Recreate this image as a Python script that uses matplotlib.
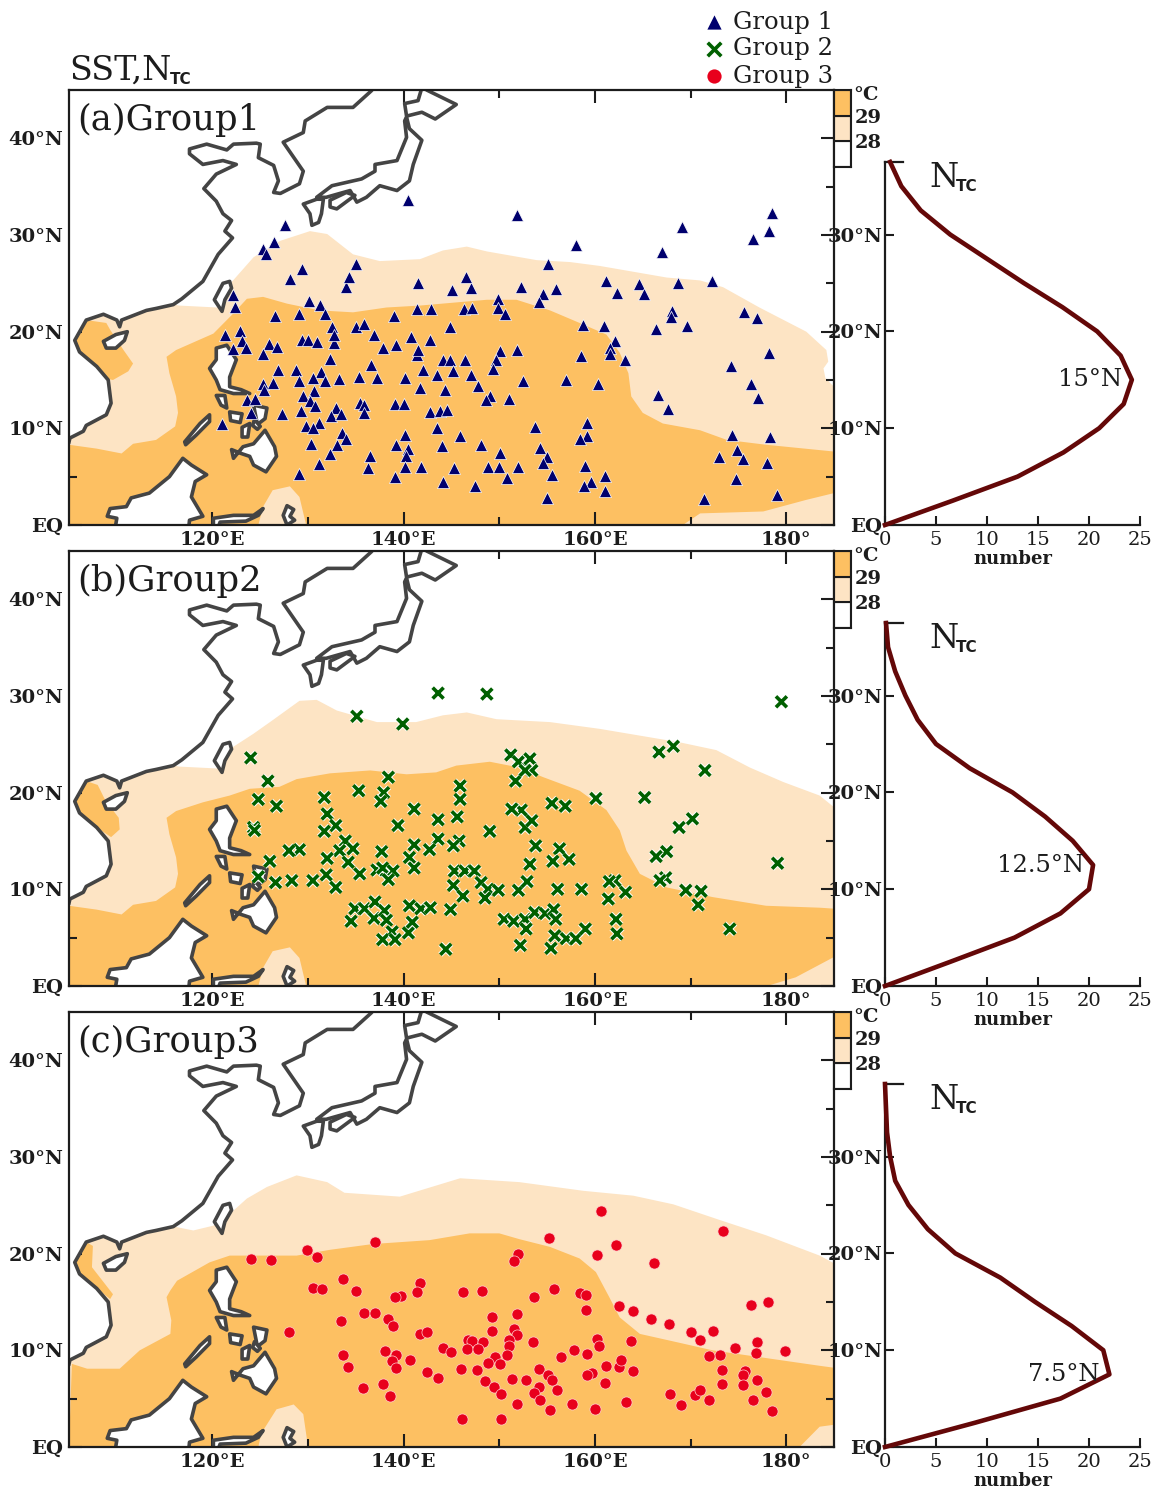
import numpy as np
import matplotlib
matplotlib.use('Agg')
import matplotlib.pyplot as plt
import matplotlib.patheffects as pe

W, H = 1162, 1491
plt.rcParams['font.family'] = ['DejaVu Serif']

panel_names = ['(a)Group1', '(b)Group2', '(c)Group3']
peak_labels = ['15°N', '12.5°N', '7.5°N']
peak_label_x = [1122, 1084, 1100]
peak_label_lat = [15, 12.5, 7.5]
legend_names = ['Group 1', 'Group 2', 'Group 3']

lon_major = [120, 140, 160, 180]
lon_major_labels = ['120°E', '140°E', '160°E', '180°']
lon_minor = [110, 130, 150, 170]
lat_major = [0, 10, 20, 30, 40]
lat_major_labels = ['EQ', '10°N', '20°N', '30°N', '40°N']
lat_minor = [5, 15, 25, 35]
curve_lat_ticks = [0, 10, 20, 30]
curve_lat_labels = ['EQ', '10°N', '20°N', '30°N']
count_ticks = [0, 5, 10, 15, 20, 25]

color_levels = [27, 28, 29, 30]
color_labels = ['28', '29']

# TC counts per 2.5 deg latitude band
band_lat = [0, 2.5, 5, 7.5, 10, 12.5, 15, 17.5, 20, 22.5, 25, 27.5, 30, 32.5, 35, 37.5]
ntc_1 = [0, 6.6, 13, 17.5, 21, 23.4, 24.2, 23.1, 20.8, 17.4, 13.6, 10, 6.4, 3.5, 1.6, 0.5]
ntc_2 = [0, 6.4, 12.7, 17.2, 20, 20.4, 18.4, 15.7, 12.5, 8.3, 5, 3.2, 2, 1, 0.3, 0.1]
ntc_3 = [0, 8.8, 17.2, 22, 21.4, 18.3, 14.7, 11.3, 6.9, 4.2, 2.3, 1, 0.5, 0.2, 0.1, 0]

# genesis points (lon, lat)
group1 = [(122.2,23.8),(122.4,22.6),(126.5,21.6),(129,21.8),(130.1,23.2),(131.3,22.8),(131.8,21.8),
    (134,24.6),(128.1,25.5),(139,21.6),(121.3,19.7),(122.9,20.1),(123.1,19),(122.2,18.2),(123.5,18.3),
    (125.9,18.7),(125.3,17.7),(126.8,18.4),(129.4,19.1),(130,19.1),(130.9,18.9),(132.7,18.8),(132.5,20.5),
    (132.7,19.7),(135,20.5),(135.8,20.8),(136.9,19.7),(137.8,18.3),(139.2,18.6),(132.3,17.2),(136.6,16.6),
    (126.9,16),(128.7,16),(131.4,15.8),(129,14.9),(130.5,15.2),(131.8,14.9),(133.2,15.1),(135.3,15.3),
    (137.2,15.2),(125.3,14.6),(126.3,14.7),(125.4,14),(130.6,13.9),(129.5,13.3),(123.6,12.9),(124.5,13),
    (130.2,12.8),(130.7,12.3),(135.4,12.6),(135.8,12.4),(135.9,11.6),(139.1,12.5),(124,11.6),(127.3,11.5),
    (129.3,11.8),(132.9,12.1),(132.4,11.3),(133.4,11.5),(121,10.5),(131.1,10.6),(129.8,10.2),(130.5,10),
    (133.6,9.5),(134,8.9),(130.3,8.4),(133,8.3),(139.2,8.3),(132.3,7.3),(136.5,7.1),(131.1,6.3),(136.3,5.9),
    (129,5.3),(139.1,5),
    (141.4,22.3),(142.9,22.3),(146.3,22.3),(147.1,22.4),(149.9,23.4),(149.9,22.5),(150.6,21.8),(152.3,24.6),
    (154.6,23.9),(154.1,23.1),(155.9,24.4),(141.5,25),(145.1,24.3),(147,24.5),(161.2,25.2),(164.6,24.9),
    (162.3,24),(165.1,23.9),(168.7,25),(172.2,25.2),(175.6,22),(176.9,21.4),(168.1,22.1),(168,21.5),
    (166.4,20.3),(169.6,20.6),(158.7,20.7),(160.9,20.6),(144.8,20.5),(140.8,19.5),(142.8,19.1),(162.1,19),
    (161.6,18.3),(161.6,17.7),(163.1,17.1),(158.5,17.5),(178.2,17.8),(174.2,16.5),(141.4,17.6),(141.5,18.1),
    (150.1,18),(151.8,18.1),(144.1,17.1),(144.8,17.1),(146.4,17.1),(149.7,17.1),(149.3,16.1),(142,16),
    (145.2,15.9),(143.5,15.5),(147,15.5),(140.1,15.2),(147.8,14.4),(152.5,14.9),(157,15),(160.3,14.6),
    (176.3,14.6),(141.7,14.2),(144.3,14),(166.6,13.5),(177.1,13.1),(149,13.3),(148.6,12.9),(151,13),
    (140,12.5),(142.7,11.7),(143.8,11.8),(144.5,11.9),(167.6,12),(159.2,10.6),(153.7,10.1),(143.5,10),
    (140.1,9.3),(145.9,9.2),(159.2,9.2),(158.4,8.9),(174.3,9.3),(178.3,9.1),(148.1,8.3),(144,8.2),(140.5,7.9),
    (154.3,8),(150.1,7.5),(140.2,7.1),(155,7),(154.6,6.4),(174.9,7.8),(173,7),(175.5,6.8),(178,6.4),(140.1,6),
    (141.8,6),(145.3,5.9),(148.8,6),(150,6),(152,6),(159,6.1),(150.8,4.9),(155.5,5.2),(161,5.1),(144.1,4.5),
    (147.5,4),(159.6,4.4),(158.9,4),(161,3.5),(174.8,4.8),(155,2.8),(171.4,2.7),(179,3.1),
    (140.4,33.6),(151.9,32.1),(158,29),(127.6,31),(126.4,29.3),(125.3,28.6),(125.6,28),(135,27),(129.4,26.5),
    (134.3,25.7),(146.5,25.7),(155.1,27),(178.5,32.3),(178.2,30.4),(176.5,29.6),(169.1,30.8),(167,28.2)]

group2 = [(143.6,30.3),(148.7,30.2),(135.1,27.9),(139.9,27.1),(124,23.6),(125.8,21.2),(138.4,21.6),(135.3,20.2),
    (137.9,20),(137.6,19.1),(145.9,20.7),(145.9,19.3),(124.8,19.3),(126.7,18.6),(131.7,19.5),(132,17.8),
    (132.9,16.6),(131.7,16),(124.3,16.4),(124.4,16.1),(141.1,18.3),(143.6,17.2),(145.6,17.5),(139.4,16.6),
    (149,16),(143.6,15.2),(145.8,15),(145.2,14.5),(141.1,14.6),(142.7,14.1),(140.6,13.3),(141.1,12.2),
    (137.7,13.9),(133.9,15),(134.7,14.2),(133.3,14),(134.2,12.8),(132,13.2),(129.1,14.1),(128,14),(126,12.9),
    (124.8,11.3),(126.6,10.7),(128.3,10.9),(130.5,10.9),(131.9,11.5),(132.9,10.2),(135.4,11.6),(137.2,12),
    (137.8,12.2),(138.9,11.9),(138.4,11),(145.3,11.9),(146.4,11.9),(147.4,11.9),(145.2,10.4),(148.1,10.7),
    (148.8,10),(149.9,9.9),(148.5,9.1),(146.2,9.3),(152,9.9),(152.9,10.8),(153.2,12.6),(153.8,14.5),(152.7,16.4),
    (153.4,17.1),(152.3,18.2),(151.3,18.3),(151.7,21.2),(151.2,23.9),(152,23.2),(153.2,23.5),(153.4,22.3),
    (152.7,22.3),(134.9,8),(135.9,8),(137,8.7),(136.9,7),(138,7.8),(138.2,6.8),(134.5,6.7),(138.8,5.6),
    (137.8,4.8),(139.1,4.8),(140.5,5.5),(140.9,6.6),(140.6,8.3),(141.8,8),(142.8,8.1),(144.9,7.9),(144.4,3.8),
    (150.5,6.9),(151.5,6.7),(152.7,6.9),(152.8,5.9),(153.7,7.6),(154.8,7.5),(152.2,4.2),
    (179.5,29.4),(168.2,24.8),(166.7,24.2),(171.5,22.3),(160.1,19.4),(165.2,19.5),(170.2,17.3),(168.8,16.4),
    (167.5,13.9),(166.4,13.4),(179.1,12.7),(167.4,11.2),(166.8,10.9),(169.5,9.9),(171.1,9.8),(170.8,8.4),
    (174.1,5.9),(162.1,10.9),(161.5,10.8),(163.2,9.7),(161.4,9),(162.2,6.9),(162.3,5.4),(158.6,10),(156.1,10),
    (155.5,18.9),(156.9,18.6),(156.3,14.2),(157.3,13.1),(155.6,12.9),(155.7,7.9),(155.9,6.9),(155.4,3.9),
    (155.8,5.2),(157,4.9),(158,4.9),(159,5.9)]

group3 = [(124,19.4),(126.1,19.3),(129.9,20.4),(130.9,19.7),(137,21.2),(152,20),(151.5,19.2),(133.7,17.4),
    (130.5,16.5),(131.5,16.3),(135,16.1),(141.7,17),(141.4,16),(139.7,15.6),(139.1,15.5),(146.2,16),(148.2,16.1),
    (135.9,13.9),(137,13.9),(133.4,13),(138.4,13.2),(138.9,12.5),(128,11.9),(141.7,11.7),(142.4,11.9),(149.2,13.5),
    (151.8,13.8),(149.2,12),(151.5,12.2),(151.9,11.6),(151,11.1),(151,10.4),(150.8,9.5),(146.7,11.1),(147.1,11),
    (148.3,10.9),(146.6,10.1),(147.8,10.1),(144.1,10.2),(144.9,9.8),(138,9.9),(133.7,9.5),(134.2,8.3),(139.2,9.5),
    (138.8,8.9),(139.2,8.2),(140.7,9),(142.4,7.8),(143.6,7.1),(146,8.1),(147.7,8),(149.5,9.3),(148.8,8.7),(150.1,8.6),
    (148.5,6.8),(149.4,6.2),(150.2,5.5),(151.3,7),(152.8,6.9),(151.9,4.5),(135.7,6.1),(137.8,6.5),(138.6,5.3),
    (146.1,2.9),(150.2,2.9),
    (160.6,24.4),(173.4,22.3),(155.2,21.6),(162.2,20.9),(160.2,19.9),(166.2,19),(155.7,16.3),(153.6,15.5),(158.4,15.9),
    (159.1,15.7),(159.1,14.2),(162.5,14.6),(164,14.1),(165.9,13.2),(167.7,12.7),(170,11.9),(171,11.1),(172.3,12),
    (176.3,14.7),(178.1,15),(176.9,10.9),(174.6,10.2),(173.1,9.5),(171.9,9.4),(176.8,9.7),(179.9,9.9),(153.5,10.9),
    (160.2,11.2),(160.4,10.4),(163.8,11),(157.8,10),(159.2,9.6),(156.4,9.3),(154.2,8.1),(155.1,7.5),(155.5,6.9),
    (154.1,6.2),(153.6,5.6),(156,5.9),(154.3,4.9),(155.3,3.8),(157.6,4.4),(160,3.9),(163.2,4.7),(161.2,8.4),(162.5,8.3),
    (162.7,9),(164,7.9),(159.7,7.7),(159.2,7.4),(161,6.6),(173.3,8),(173.3,6.5),(175.7,7.9),(175.5,7.4),(175.5,6.4),
    (176.9,6.9),(177.9,5.7),(176.5,4.9),(178.5,3.7),(167.9,5.5),(169,4.3),(170.5,5.4),(171,5.9),(171.9,4.9)]

# SST 28C and 29C areas for each panel, outlines
sst28_a = [(105,0),(105,23),(115,23),(116.5,22.7),(120.5,22.5),(121.5,23.5),(121.8,24.9),(124.3,27.7),(127.1,29.4),
    (130.2,30.4),(132,30.1),(134.7,28),(137.5,27.3),(141.7,27.5),(144.1,28.4),(146.6,28.8),(148.7,28.3),(153.9,27.4),
    (157.4,27.2),(160.5,26.8),(164,26.2),(167.5,25.6),(171,25.3),(173.4,24.6),(177.2,22.5),(182.1,20),(184.2,18.1),
    (184.4,16.9),(183.9,16.2),(184.1,15.2),(185,14.3),(185,0)]
sst29_a = [(105,0),(105,8.3),(107.9,7.9),(110.5,7.4),(111.7,8.4),(114.1,8.8),(116.1,10.2),(116.4,11.6),(116.2,13.3),
    (115.5,15.7),(115.2,17.4),(116.2,18.1),(120.1,19.8),(122.2,21.9),(123.6,23.4),(125.3,23.6),(127.8,22.9),(131.2,22.2),
    (134.7,22),(138.2,22.5),(141.7,22.7),(145.2,23),(148.7,23.3),(151.8,23.3),(155.3,22.2),(158.4,20.9),(161.2,19.7),
    (162.6,17.8),(163.5,15.7),(163.8,13.3),(165,11.6),(167.1,10.5),(171,9.8),(173.8,8.8),(177.9,8.3),(185,7.6),(185,3.3),
    (182.1,2.6),(177.6,1.4),(171,1.2),(169.2,0),(129.8,0),(129.1,2.9),(128.1,4),(126.3,3.6),(125.3,1.9),(124.8,0)]
blob29_a = [(106.8,21.2),(108.9,20.9),(109.3,20.2),(110.7,18.1),(111.7,16.7),(111.2,15.9),(109.6,15),(108.2,15.3),
    (106.1,17.9),(105.6,19.1)]

sst28_b = [(105,0),(105,23),(115,23),(116.5,22.7),(120.5,22.5),(121.5,23.5),(121.8,24.5),(124.3,26.1),(126.3,27.5),
    (129.1,29.5),(130.9,29.6),(133,28.5),(137.2,27.3),(141.3,27.3),(144.1,28),(146.6,28.3),(149.7,27.6),(155.3,27.3),
    (160.5,26.6),(164.7,25.9),(168.9,25.2),(172.7,24.4),(176.2,22.6),(179.7,21.1),(183.5,19.7),(185,18.5),(185,0)]
sst29_b = [(105,0),(105,8.3),(107.9,7.9),(110.5,7.4),(111.7,8.4),(114.1,8.8),(116.1,10.2),(116.4,11.6),(116.2,13.3),
    (115.5,15.7),(115.2,17.4),(116.2,18.1),(119,19),(121.8,19.7),(123.9,20.4),(127,20.6),(128.8,21.4),(132.3,22),
    (136.5,22.3),(140.3,21.9),(143.4,22.1),(145.5,22.8),(149,23.2),(152.1,22.6),(154.6,21.6),(158.4,20.2),(161.2,18.2),
    (162.6,16.1),(163.3,14),(164.7,11.6),(167.5,10.2),(172.3,9.2),(177.9,8.3),(183.5,8.1),(185,8),(185,3),(181,0.9),
    (178,0),(129.8,0),(129.1,2.9),(128.1,4),(126.3,3.6),(125.3,1.9),(124.8,0)]
blob29_b = [(106.8,21.2),(108,20.8),(108.8,19.2),(110.2,17.4),(110.3,16.2),(109.4,15.4),(107.9,16.4),(106.1,17.9),(105.6,19.1)]

sst28_c = [(105,0),(105,23),(115,23),(118,22.4),(120.1,22.9),(121.8,24.1),(123.6,25.7),(125.7,26.9),(128.8,28.1),
    (132,27.4),(133.8,26.3),(139.6,25.9),(145.9,27.8),(152.1,27.4),(158.8,26.5),(164,26),(168.2,25.1),(173,23.5),
    (177.9,21.9),(183.5,19.8),(185,19),(185,0)]
sst29_c = [(105,0),(105.3,8.6),(106.9,8.1),(110.3,8.1),(112.4,10),(115.6,11.7),(115.7,13.1),(115.2,15.5),(115.6,16.2),
    (116.3,17.2),(119.7,19.1),(121.8,19.8),(128.8,19.8),(132.3,20.4),(136.8,21),(142.7,21.4),(146.9,22.1),(150,22.1),
    (152.1,21.5),(155.3,20.7),(158.4,19.5),(160.1,18.1),(161.5,15.5),(162.6,13.4),(164.7,11.7),(169.2,10.7),(172.3,10),
    (177.2,9.3),(183.5,8.4),(185,8.2),(185,2.3),(183.5,2.1),(181.4,0),(130,0),(129.5,3.4),(128.5,4.4),(126.7,3.9),
    (125.1,1.4),(124.8,0)]
blob29_c = [(106.8,21.2),(107.5,20.8),(107.4,18.6),(109.6,15.8),(109.3,15.3),(106.1,17.9),(105.6,19.1)]

# coastlines
mainland = [(105,8.6),(105.1,9),(106.5,9.7),(106.8,10.3),(108.9,11.4),(109.4,12.6),(109.1,15),(107.9,16.4),(106.1,17.9),
    (105.6,19.1),(106.8,21.2),(108.6,21.8),(110,21.2),(110.3,20.5),(110.5,21.2),(113.1,22.2),(114.1,22.4),(115.9,22.8),
    (116.8,23.4),(119,25.2),(120.6,28),(122.1,29.7),(121.3,30.4),(122,31.5),(121.1,32.2),(120.4,33.5),(119.1,34.8),
    (120.4,36.3),(122.5,37.3),(121.1,37.7),(119,37.3),(117.6,38.4),(117.6,38.9),(119.4,39.4),(121.5,38.8),(122.2,39.4),
    (124.6,39.5),(125,39.4),(124.8,38),(126.4,37.2),(126.9,35.6),(126.4,34.4),(127.1,34.3),(129.1,35.3),(129.5,36.6),
    (127.4,39.6),(129.5,40.6),(129.7,41.8),(132,43.2),(134.7,43.2),(136.6,44.9),(138,46.5)]
islands = [
    [(142.4,45),(145.5,43.5),(143.3,42),(141.9,42.7),(140.3,42.3),(140.1,43.6),(141.5,43.9),(141.8,44.9),(142,46)],
    [(140.3,42.2),(140.6,41),(141.9,39.8),(141,37.3),(140.6,35.6),(139.3,34.6),(137.5,35.1),(136.1,33.9),(135.1,33.4),
     (134.4,34.6),(131.9,33.9),(130.9,33.9),(132.5,35.1),(135.6,35.8),(137,36.6),(137,37.3),(139.3,37.7),(140.3,40.1),(140.1,41.8)],
    [(130.9,33.7),(129.5,33.2),(130.2,32.2),(130.4,31),(131.1,31.3),(131.4,32.2),(131.6,33.7)],
    [(132.3,33.6),(134,34.4),(134.9,34.1),(133,32.7),(132.3,32.9)],
    [(121.8,25.2),(121.1,25),(120.2,23.3),(121,22.1),(121.3,23.3),(122,24.5)],
    [(108.6,19),(109.9,19.7),(111.1,20),(110.8,19.1),(109.9,18.3),(108.9,18.3)],
    [(120.4,18.3),(121.5,18.6),(122.5,17.1),(121.8,15.3),(121.8,14.3),(123,14),(123.9,13.6),(122.2,13.6),(121.5,13.8),
     (120.8,14),(120.4,15),(119.7,16.2),(120.4,17.1)],
    [(120.4,13.4),(121.3,13.4),(121.5,12.1),(120.9,12.4)],
    [(121.8,11.7),(123.1,11.5),(122.9,10.6),(121.9,10.8)],
    [(123.1,10.1),(123.9,10.5),(123.7,9.1),(123.1,9.1)],
    [(124.3,12.4),(125.7,12.1),(125.5,11),(124.7,10.4)],
    [(124.4,10.9),(125,10.2),(124.7,9.9),(124.2,10.3)],
    [(119.7,11.4),(119.7,10.7),(118.3,9.3),(117.2,8.3),(117.1,8.6),(118.7,10.5)],
    [(122,7.8),(122.2,6.9),(123.2,8.1),(124.3,8.4),(125.5,9.8),(126.5,8.1),(126.7,7.1),(125.6,5.5),(124.3,6.2),(123.9,7.1),(123,7.4)],
    [(109.8,-0.5),(110,0.7),(109,0.9),(109.3,1.7),(111,1.9),(111.5,2.8),(113.4,3.3),(115.5,5),(116.9,6.9),(117.8,6.2),
     (119.4,5.2),(118.2,4.5),(117.8,2.9),(119,0.9),(117.6,0.5),(117.5,-0.5)],
    [(120.1,-0.5),(120.1,0.7),(122.2,1),(124.3,1),(125.3,1.7),(124.8,1),(123.5,0.4),(120.8,0.3),(120.5,-0.5)],
    [(127.8,2),(128.5,1.6),(128.1,0.9),(128.6,0.5),(127.8,0),(127.4,1)],
]

orange = '#fdc062'
cream = '#fde4c4'
edge = '#1c1c1c'
coast = '#444444'


def px_axes(fig, left, top, right, bottom):
    return fig.add_axes([left / W, 1 - bottom / H, (right - left) / W, (bottom - top) / H])


def draw_map(ax, sst28, sst29, blob, pts, kind):
    ax.fill(*zip(*sst28), color=cream, lw=0, zorder=1)
    ax.fill(*zip(*sst29), color=orange, lw=0, zorder=1.1)
    ax.fill(*zip(*blob), color=orange, lw=0, zorder=1.1)

    # land is white and hides the SST shading
    closed = mainland + [(103, 47), (103, 8.6)]
    ax.fill(*zip(*closed), color='white', lw=0, zorder=2)
    ax.plot(*zip(*mainland), color=coast, lw=2.6, solid_joinstyle='round', zorder=2.2)
    for isl in islands:
        ax.fill(*zip(*isl), facecolor='white', edgecolor=coast, lw=2.6, joinstyle='round', zorder=2.1)

    lon, lat = zip(*pts)
    if kind == '^':
        ax.scatter(lon, lat, marker='^', s=76, c='#00006e', edgecolors='white', linewidths=0.5, zorder=3)
    elif kind == 'x':
        ax.scatter(lon, lat, marker='x', s=62, c='#006000', linewidths=2.6, zorder=3,
                   path_effects=[pe.withStroke(linewidth=4, foreground='white')])
    else:
        ax.scatter(lon, lat, marker='o', s=64, c='#e8001c', edgecolors='#ffd0d0', linewidths=0.5, zorder=3)

    ax.set_xlim(105, 185)
    ax.set_ylim(0, 45)
    ax.set_xticks(lon_major, lon_major_labels)
    ax.set_xticks(lon_minor, minor=True)
    ax.set_yticks(lat_major, lat_major_labels)
    ax.set_yticks(lat_minor, minor=True)
    ax.tick_params(which='major', direction='in', length=9.5, width=1.5, top=True, right=True,
                   labelsize=14, colors=edge, pad=4)
    ax.tick_params(which='minor', direction='in', length=5.5, width=1.5, top=True, right=True, colors=edge)
    for lab in ax.get_xticklabels() + ax.get_yticklabels():
        lab.set_fontweight('semibold')
    for sp in ax.spines.values():
        sp.set_linewidth(1.6)
        sp.set_color(edge)


def draw_colorbar(ax):
    cols = ['white', cream, orange]
    for i in range(3):
        ax.bar(0, color_levels[i + 1] - color_levels[i], bottom=color_levels[i], width=1, color=cols[i],
               edgecolor=edge, linewidth=1.5)
    ax.set_xlim(-0.5, 0.5)
    ax.set_ylim(27, 30)
    ax.set_xticks([])
    ax.set_yticks(color_levels[1:3], color_labels)
    ax.yaxis.tick_right()
    ax.tick_params(axis='y', length=0, labelsize=14, pad=3, colors=edge)
    for lab in ax.get_yticklabels():
        lab.set_fontweight('semibold')
    for sp in ax.spines.values():
        sp.set_linewidth(1.5)
        sp.set_color(edge)


def draw_curve(ax, ntc):
    ax.plot(ntc, band_lat, color='#640808', lw=3.3, solid_joinstyle='round', clip_on=False, zorder=3)
    ax.set_xlim(0, 25)
    ax.set_ylim(0, 37.5)
    ax.set_xticks(count_ticks)
    ax.set_yticks(curve_lat_ticks, curve_lat_labels)
    ax.tick_params(direction='in', length=6.5, width=1.5, labelsize=14, colors=edge)
    ax.tick_params(axis='x', pad=4)
    ax.tick_params(axis='y', pad=2)
    for lab in ax.get_yticklabels():
        lab.set_fontweight('semibold')
    # short cap at the top of the latitude axis
    ax.plot([0, 1.8], [37.5, 37.5], color=edge, lw=1.6, clip_on=False)
    ax.spines['top'].set_visible(False)
    ax.spines['right'].set_visible(False)
    for s in ['left', 'bottom']:
        ax.spines[s].set_linewidth(1.6)
        ax.spines[s].set_color(edge)


fig = plt.figure(figsize=(W / 100, H / 100), dpi=100)

# overlay in pixel coordinates for the free-standing labels
ov = fig.add_axes([0, 0, 1, 1], zorder=10)
ov.set_xlim(0, W)
ov.set_ylim(H, 0)
ov.axis('off')

panels = [(90, sst28_a, sst29_a, blob29_a, group1, '^', ntc_1),
          (551, sst28_b, sst29_b, blob29_b, group2, 'x', ntc_2),
          (1012, sst28_c, sst29_c, blob29_c, group3, 'o', ntc_3)]

for i, (top, s28, s29, blob, pts, kind, ntc) in enumerate(panels):
    ax = px_axes(fig, 69, top, 834, top + 435)
    draw_map(ax, s28, s29, blob, pts, kind)
    ov.text(77, top + 40, panel_names[i], fontsize=25.5, color=edge, ha='left', va='baseline')

    cb = px_axes(fig, 834, top, 851, top + 77)
    draw_colorbar(cb)
    ov.text(853, top + 5, '°C', fontsize=14, fontweight='semibold', color=edge, ha='left', va='center')

    cax = px_axes(fig, 885, top + 72, 1140, top + 435)
    draw_curve(cax, ntc)
    ov.text(929, top + 97, 'N', fontsize=24, color=edge, ha='left', va='baseline')
    ov.text(956, top + 101, 'TC', fontsize=11, fontweight='bold', color=edge, ha='left', va='baseline',
            family='DejaVu Sans')
    ov.text(1013, top + 469, 'number', fontsize=13, fontweight='bold', color=edge, ha='center', va='center')
    ov.text(peak_label_x[i], top + 435 - peak_label_lat[i] * 9.68, peak_labels[i], fontsize=17.5, color=edge,
            ha='right', va='center')

ov.text(69, 80, 'SST,N', fontsize=24, color=edge, ha='left', va='baseline')
ov.text(170, 84, 'TC', fontsize=11, fontweight='bold', color=edge, ha='left', va='baseline', family='DejaVu Sans')

legend_marks = [('^', '#00006e'), ('x', '#006000'), ('o', '#e8001c')]
for i, name in enumerate(legend_names):
    y = 22 + 27 * i
    m, c = legend_marks[i]
    if m == 'x':
        ov.scatter([714], [y], marker=m, s=95, c=c, linewidths=2.6)
    else:
        ov.scatter([714], [y], marker=m, s=105, c=c, linewidths=0)
    ov.text(733, y, name, fontsize=17.5, color=edge, ha='left', va='center')

fig.savefig('out.png', dpi=100)
